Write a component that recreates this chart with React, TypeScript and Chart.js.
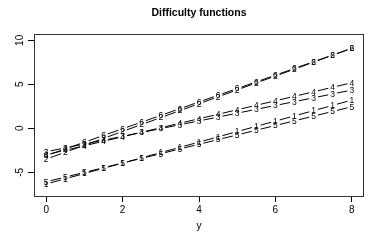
import React, { useEffect, useRef } from "react";
import { Chart, registerables } from "chart.js";

Chart.register(...registerables);

const xValues = [0, 0.5, 1, 1.5, 2, 2.5, 3, 3.5, 4, 4.5, 5, 5.5, 6, 6.5, 7, 7.5, 8];
const series1 = [-6.33, -5.73, -5.14, -4.54, -3.95, -3.35, -2.75, -2.16, -1.56, -0.97, -0.37, 0.23, 0.82, 1.42, 2.01, 2.61, 3.2];
const series2 = [-3.5, -2.71, -1.93, -1.14, -0.35, 0.44, 1.22, 2.01, 2.8, 3.58, 4.37, 5.16, 5.94, 6.73, 7.52, 8.31, 9.09];
const series3 = [-2.66, -2.22, -1.78, -1.35, -0.91, -0.47, -0.03, 0.41, 0.84, 1.28, 1.72, 2.16, 2.6, 3.03, 3.47, 3.91, 4.35];
const series4 = [-3.0, -2.49, -1.98, -1.47, -0.96, -0.44, 0.07, 0.58, 1.09, 1.6, 2.11, 2.62, 3.13, 3.64, 4.15, 4.67, 5.18];
const series5 = [-6.07, -5.54, -5.01, -4.47, -3.94, -3.41, -2.88, -2.34, -1.81, -1.28, -0.75, -0.21, 0.32, 0.85, 1.39, 1.92, 2.45];
const series6 = [-3.1, -2.34, -1.58, -0.81, -0.05, 0.71, 1.47, 2.23, 3.0, 3.76, 4.52, 5.28, 6.04, 6.81, 7.57, 8.33, 9.09];
const seriesLabels = ["1", "2", "3", "4", "5", "6"];
const allSeries = [series1, series2, series3, series4, series5, series6];
const xTicks = [0, 2, 4, 6, 8];
const yTicks = [-5, 0, 5, 10];
const chartTitle = "Difficulty functions";
const xTitle = "y";

const FONT = "'Liberation Sans', Arial, Helvetica, sans-serif";
const GAP = 4.5;

const typeBPlugin = {
  id: "typeB",
  beforeDatasetsDraw(chart: any) {
    const { ctx, chartArea: ca } = chart;
    ctx.save();
    ctx.strokeStyle = "#333";
    ctx.lineWidth = 1;
    ctx.strokeRect(ca.left + 0.5, ca.top + 0.5, ca.right - ca.left - 1, ca.bottom - ca.top);
    ctx.restore();
  },
  afterDatasetsDraw(chart: any) {
    const ctx = chart.ctx;
    ctx.save();
    chart.data.datasets.forEach((ds: any, i: number) => {
      const meta = chart.getDatasetMeta(i);
      const pts = meta.data;
      ctx.strokeStyle = "#000";
      ctx.lineWidth = 1;
      ctx.beginPath();
      for (let k = 0; k < pts.length - 1; k++) {
        const a = pts[k];
        const b = pts[k + 1];
        const dx = b.x - a.x;
        const dy = b.y - a.y;
        const len = Math.hypot(dx, dy);
        if (len <= 2 * GAP) continue;
        const ux = dx / len;
        const uy = dy / len;
        ctx.moveTo(a.x + ux * GAP, a.y + uy * GAP);
        ctx.lineTo(b.x - ux * GAP, b.y - uy * GAP);
      }
      ctx.stroke();
      ctx.fillStyle = "#000";
      ctx.font = `8.5px ${FONT}`;
      ctx.textAlign = "center";
      ctx.textBaseline = "middle";
      pts.forEach((p: any) => ctx.fillText(ds.label, p.x, p.y + 0.5));
    });
    // rotated y tick labels
    const ys = chart.scales.y;
    ctx.fillStyle = "#000";
    ctx.font = `10px ${FONT}`;
    ctx.textAlign = "center";
    ctx.textBaseline = "middle";
    yTicks.forEach((v) => {
      const py = ys.getPixelForValue(v);
      ctx.save();
      ctx.translate(20.5, py);
      ctx.rotate(-Math.PI / 2);
      ctx.fillText(String(v), 0, 0);
      ctx.restore();
    });
    ctx.restore();
  },
};

export default function App() {
  const ref = useRef<HTMLCanvasElement | null>(null);
  useEffect(() => {
    document.body.style.margin = "0";
    const canvas = ref.current!;
    const chart = new Chart(canvas, {
      type: "line",
      data: {
        datasets: allSeries.map((s, i) => ({
          label: seriesLabels[i],
          data: s.map((v, k) => ({ x: xValues[k], y: v })),
          showLine: false,
          pointRadius: 0,
          pointHoverRadius: 0,
          borderColor: "#000",
        })),
      },
      options: {
        responsive: false,
        animation: false,
        events: [],
        layout: { padding: { left: 0, right: 18, top: 0, bottom: 0 } },
        plugins: {
          legend: { display: false },
          tooltip: { enabled: false },
          title: {
            display: true,
            text: chartTitle,
            fullSize: false,
            color: "#000",
            font: { family: FONT, size: 10.5, weight: "bold" },
            padding: { top: 7, bottom: 14.4 },
          },
        },
        scales: {
          x: {
            type: "linear",
            min: -0.32,
            max: 8.32,
            afterBuildTicks: (scale: any) => {
              scale.ticks = xTicks.map((v) => ({ value: v }));
            },
            afterFit: (scale: any) => {
              scale.height = 44;
            },
            ticks: {
              color: "#000",
              font: { family: FONT, size: 10 },
              padding: 2.5,
              maxRotation: 0,
              autoSkip: false,
            },
            grid: {
              display: true,
              drawOnChartArea: false,
              drawTicks: true,
              tickLength: 6,
              color: "#000",
              lineWidth: 1,
            },
            border: { display: false },
            title: {
              display: true,
              text: xTitle,
              color: "#000",
              font: { family: FONT, size: 10 },
              padding: { top: 0, bottom: 7.5 },
            },
          },
          y: {
            type: "linear",
            min: -7.69,
            max: 10.72,
            afterBuildTicks: (scale: any) => {
              scale.ticks = yTicks.map((v) => ({ value: v }));
            },
            afterFit: (scale: any) => {
              scale.width = 34;
            },
            ticks: { display: false },
            grid: {
              display: true,
              drawOnChartArea: false,
              drawTicks: true,
              tickLength: 6,
              color: "#000",
              lineWidth: 1,
            },
            border: { display: false },
          },
        },
      },
      plugins: [typeBPlugin],
    });
    return () => chart.destroy();
  }, []);
  return <canvas ref={ref} width={382} height={240} style={{ display: "block" }} />;
}
